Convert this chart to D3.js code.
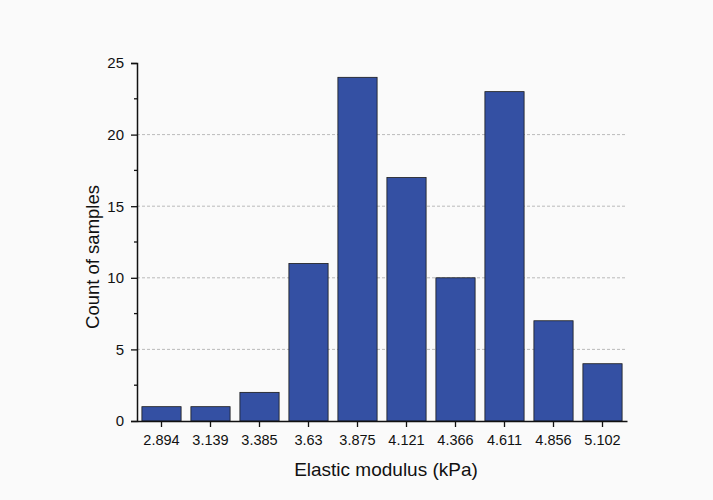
<!DOCTYPE html>
<html><head><meta charset="utf-8">
<script src="https://cdn.jsdelivr.net/npm/d3@7"></script>
<style>body{margin:0;background:#fafafa;}svg{display:block;}</style>
</head><body>
<script>
const categories = ["2.894","3.139","3.385","3.63","3.875","4.121","4.366","4.611","4.856","5.102"];
const counts = [1,1,2,11,24,17,10,23,7,4];
const yTicks = [0,5,10,15,20,25];
const yMinor = [2.5,7.5,12.5,17.5,22.5];

const W=713,H=500;
const m={l:137,r:86,t:63,b:79};
const svg=d3.select("body").append("svg").attr("width",W).attr("height",H);
svg.append("rect").attr("width",W).attr("height",H).attr("fill","#fafafa");
const x=d3.scaleBand().domain(categories).range([m.l,W-m.r]).paddingInner(0.2).paddingOuter(0.1);
const y=d3.scaleLinear().domain([0,25]).range([H-m.b,m.t]);
const font="Arial, 'Liberation Sans', sans-serif";

// gridlines
svg.append("g").selectAll("line").data(yTicks.filter(d=>d>0&&d<25)).join("line")
 .attr("x1",m.l).attr("x2",W-m.r-2).attr("y1",d=>y(d)).attr("y2",d=>y(d))
 .attr("stroke","#aaa").attr("stroke-width",0.8).attr("stroke-dasharray","3,2");

// bars
svg.append("g").selectAll("rect").data(counts).join("rect")
 .attr("x",(d,i)=>x(categories[i])).attr("width",x.bandwidth())
 .attr("y",d=>y(d)).attr("height",d=>y(0)-y(d))
 .attr("fill","#3450a3").attr("stroke","#1a1a1a").attr("stroke-width",0.8);

// y axis
const ya=svg.append("g").attr("transform",`translate(${m.l},0)`)
 .call(d3.axisLeft(y).tickValues(yTicks).tickSize(6).tickPadding(7));
ya.selectAll(".tick text").attr("font-family",font).attr("font-size",15).attr("fill","#111");
ya.select(".domain").attr("stroke","#111").attr("stroke-width",1.5);
ya.selectAll(".tick line").attr("stroke","#111").attr("stroke-width",1.3);
svg.append("g").selectAll("line").data(yMinor).join("line")
 .attr("x1",m.l-3).attr("x2",m.l).attr("y1",d=>y(d)).attr("y2",d=>y(d))
 .attr("stroke","#111").attr("stroke-width",1.3);

// x axis
const xa=svg.append("g").attr("transform",`translate(0,${y(0)})`)
 .call(d3.axisBottom(x).tickSize(6).tickPadding(8).tickSizeOuter(0));
xa.selectAll(".tick text").attr("font-family",font).attr("font-size",14.5).attr("fill","#111");
xa.select(".domain").attr("stroke","#111").attr("stroke-width",1.5);
xa.selectAll(".tick line").attr("stroke","#111").attr("stroke-width",1.3);

svg.append("text").attr("x",(m.l+W-m.r)/2+4).attr("y",476).attr("text-anchor","middle")
 .attr("font-family",font).attr("font-size",19).attr("fill","#111").text("Elastic modulus (kPa)");
svg.append("text").attr("transform",`translate(99,${(m.t+H-m.b)/2+15}) rotate(-90)`).attr("text-anchor","middle")
 .attr("font-family",font).attr("font-size",18.5).attr("fill","#111").text("Count of samples");
</script>
</body></html>
